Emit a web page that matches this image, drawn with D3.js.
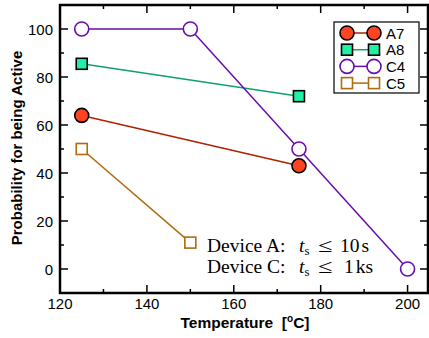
<!DOCTYPE html>
<html><head><meta charset="utf-8">
<script src="https://cdn.jsdelivr.net/npm/d3@7"></script>
<style>body{margin:0;background:#fff}</style>
</head><body>
<script>
const seriesNames = ["A7","A8","C4","C5"];
const A7 = [[125,64],[175,43]];
const A8 = [[125,85.5],[175,72]];
const C4 = [[125,100],[150,100],[175,50],[200,0]];
const C5 = [[125,50],[150,11]];
const xTicks = [120,140,160,180,200];
const yTicks = [0,20,40,60,80,100];

const series = [
  {name:"A7", data:A7, shape:"circle", fill:"#ff4422", stroke:"#000", line:"#b02000"},
  {name:"A8", data:A8, shape:"square", fill:"#22f0a4", stroke:"#000", line:"#10a070"},
  {name:"C4", data:C4, shape:"circle", fill:"#fff", stroke:"#6a0dad", line:"#6a0dad"},
  {name:"C5", data:C5, shape:"square", fill:"#fff", stroke:"#b06a10", line:"#b06a10"}
];

const W=429,H=338;
const L=60,R=428,T=5,B=293;
const svg=d3.select("body").append("svg").attr("width",W).attr("height",H);
const x=d3.scaleLinear().domain([120,204.7]).range([L,R]);
const y=d3.scaleLinear().domain([-10,110]).range([B,T]);

// ticks
const g=svg.append("g");
const xMinor=[130,150,170,190];
const yMinor=[10,30,50,70,90];
function tk(x1,y1,x2,y2){g.append("line").attr("x1",x1).attr("x2",x2).attr("y1",y1).attr("y2",y2).attr("stroke","#000").attr("stroke-width",1.5);}
xTicks.forEach(v=>{tk(x(v),B,x(v),B-8);tk(x(v),T,x(v),T+8);});
xMinor.forEach(v=>{tk(x(v),B,x(v),B-4);tk(x(v),T,x(v),T+4);});
yTicks.forEach(v=>{tk(L,y(v),L+8,y(v));tk(R,y(v),R-8,y(v));});
yMinor.forEach(v=>{tk(L,y(v),L+4,y(v));tk(R,y(v),R-4,y(v));});
svg.append("rect").attr("x",L).attr("y",T).attr("width",R-L).attr("height",B-T).attr("fill","none").attr("stroke","#000").attr("stroke-width",2.5);

// tick labels
const font="'Liberation Sans', Arial, sans-serif";
xTicks.forEach(v=>svg.append("text").attr("x",x(v)).attr("y",B+15.5).attr("text-anchor","middle")
  .attr("font-family",font).attr("font-size",15).text(v));
yTicks.forEach(v=>svg.append("text").attr("x",L-7).attr("y",y(v)+6).attr("text-anchor","end")
  .attr("font-family",font).attr("font-size",15).text(v));

// axis titles
const xt=svg.append("text").attr("x",245).attr("y",328).attr("text-anchor","middle")
  .attr("font-family",font).attr("font-size",15.5).attr("font-weight","bold");
xt.append("tspan").text("Temperature\u00a0\u00a0[");
xt.append("tspan").attr("font-size",10).attr("dy",-6).text("o");
xt.append("tspan").attr("dy",6).text("C]");
svg.append("text").attr("transform",`translate(22,148) rotate(-90)`).attr("text-anchor","middle")
  .attr("font-family",font).attr("font-size",15).attr("font-weight","bold").text("Probability for being Active");

// series
const line=d3.line().x(d=>x(d[0])).y(d=>y(d[1]));
function marker(sel,s,cx,cy){
  if(s.shape==="circle"){
    sel.append("circle").attr("cx",cx).attr("cy",cy).attr("r",7).attr("fill",s.fill).attr("stroke",s.stroke).attr("stroke-width",1.6);
  } else {
    sel.append("rect").attr("x",cx-5.5).attr("y",cy-5.5).attr("width",11).attr("height",11).attr("fill",s.fill).attr("stroke",s.stroke).attr("stroke-width",1.6);
  }
}
series.forEach(s=>{
  svg.append("path").attr("d",line(s.data)).attr("fill","none").attr("stroke",s.line).attr("stroke-width",1.5);
  s.data.forEach(d=>marker(svg,s,x(d[0]),y(d[1])));
});

// legend
svg.append("rect").attr("x",334).attr("y",22).attr("width",85).attr("height",71).attr("fill","#fff").attr("stroke","#000").attr("stroke-width",1.2);
series.forEach((s,i)=>{
  const yy=33+i*16.7;
  svg.append("line").attr("x1",347).attr("x2",374).attr("y1",yy).attr("y2",yy).attr("stroke",s.line).attr("stroke-width",1.5);
  marker(svg,s,347,yy);marker(svg,s,374,yy);
  svg.append("text").attr("x",386).attr("y",yy+5.5).attr("font-family",font).attr("font-size",15).text(s.name);
});

// annotation
const serif="'Liberation Serif','Times New Roman',serif";
function ann(yb,dev,val,unit){
  svg.append("text").attr("x",207).attr("y",yb).attr("font-family",serif).attr("font-size",19.5).text(`Device ${dev}:`);
  const t=svg.append("text").attr("x",299).attr("y",yb).attr("font-family",serif).attr("font-size",19.5);
  t.append("tspan").attr("font-style","italic").text("t");
  t.append("tspan").attr("font-size",13).attr("dy",3).text("s");
  svg.append("text").attr("transform",`translate(318,${yb}) scale(1.35,1)`).attr("font-family",serif).attr("font-size",19.5).text("\u2264");
  const v=svg.append("text").attr("x",val.length>1?340:344).attr("y",yb).attr("font-family",serif).attr("font-size",19.5);
  v.append("tspan").text(val);
  v.append("tspan").attr("dx",2).text(unit);
}
ann(252,"A","10","s");
ann(273,"C","1","ks");
</script>
</body></html>
